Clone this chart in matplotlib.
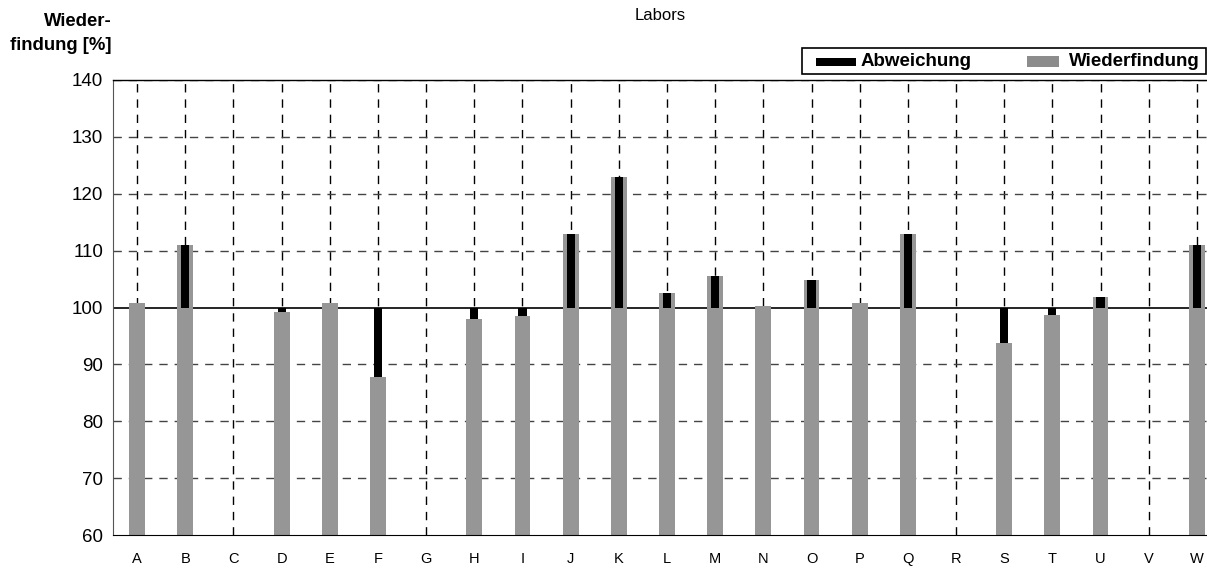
import numpy as np
import matplotlib
matplotlib.use("Agg")
import matplotlib.pyplot as plt
from matplotlib.patches import Rectangle

plt.rcParams['font.family'] = ['Liberation Sans', 'DejaVu Sans']

labs = list("ABCDEFGHIJKLMNOPQRSTUVW")
recovery = [100.8, 111.0, np.nan, 99.2, 100.8, 87.8, np.nan, 97.9, 98.5, 113.0,
            123.0, 102.6, 105.6, 100.2, 104.9, 100.8, 113.0, np.nan, 93.8, 98.6,
            101.9, np.nan, 111.0]
# deviation bars drawn from 100 (not shown where the deviation is negligible)
deviation = [np.nan, 111.0, np.nan, 99.2, np.nan, 87.8, np.nan, 97.9, 98.5, 113.0,
             123.0, 102.6, 105.6, np.nan, 104.9, np.nan, 113.0, np.nan, 93.8, 98.6,
             101.9, np.nan, 111.0]
yticks = [60, 70, 80, 90, 100, 110, 120, 130, 140]

W, H = 1207, 568
fig = plt.figure(figsize=(W / 100, H / 100), dpi=100)
ax = fig.add_axes([113 / W, 1 - 535 / H, (W - 113) / W, (535 - 80) / H])

x = np.arange(len(labs))
rec = np.array(recovery, dtype=float)
dev = np.array(deviation, dtype=float)
base = 60

ax.set_ylim(60, 140)
ax.set_xlim(-0.5, 22.21)

# grid
for xi in x:
    ax.axvline(xi, color='black', lw=1.0, ls=(0, (6, 5)), zorder=1)
for yv in yticks[1:]:
    if yv == 100:
        continue
    ax.axhline(yv, color='#444444', lw=1.0, ls=(0, (6, 5)), zorder=1)
ax.axhline(100, color='black', lw=1.2, zorder=1.5)

ax.bar(x, rec - base, bottom=base, width=0.33, color='#969696', zorder=2)
ax.bar(x, dev - 100, bottom=100, width=0.17, color='black', zorder=3)

ax.set_yticks(yticks)
ax.set_xticks(x)
ax.set_xticklabels(labs, fontsize=10.5)
ax.tick_params(axis='x', length=0, pad=12)
ax.tick_params(axis='y', length=0, pad=7, labelsize=13.5)

ax.spines['right'].set_visible(False)
ax.spines['top'].set_color('black')
ax.spines['bottom'].set_color('black')
ax.spines['left'].set_color('#555555')
ax.spines['top'].set_linewidth(1.0)

# title and y label
fig.text(660 / W, 1 - 15 / H, "Labors", ha='center', va='center', fontsize=12)
fig.text(112 / W, 1 - 22 / H, "Wieder-", ha='right', va='center',
         fontsize=13.3, fontweight='bold')
fig.text(112 / W, 1 - 45 / H, "findung [%]", ha='right', va='center',
         fontsize=13.3, fontweight='bold')

# legend (manual)
def fx(px):
    return px / W

def fy(py):
    return 1 - py / H

fig.add_artist(Rectangle((fx(802), fy(74)), fx(1206) - fx(802), fy(48) - fy(74),
                         transform=fig.transFigure, fill=False, edgecolor='black', lw=1.2))
fig.add_artist(Rectangle((fx(816), fy(66)), fx(856) - fx(816), fy(58) - fy(66),
                         transform=fig.transFigure, facecolor='black', edgecolor='none'))
fig.text(fx(861), fy(61.5), "Abweichung", ha='left', va='center', fontsize=13.5, fontweight='bold')
fig.add_artist(Rectangle((fx(1027), fy(67)), fx(1059) - fx(1027), fy(56) - fy(67),
                         transform=fig.transFigure, facecolor='#8c8c8c', edgecolor='none'))
fig.text(fx(1069), fy(61.5), "Wiederfindung", ha='left', va='center', fontsize=13.5, fontweight='bold')

fig.savefig("out.png", dpi=100)
